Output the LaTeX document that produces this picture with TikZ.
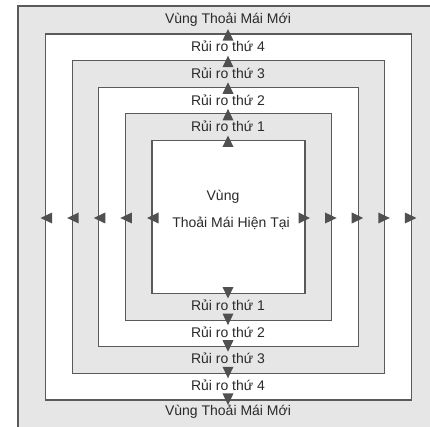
\documentclass[tikz,border=0pt]{standalone}
\usepackage{fontspec}
\setmainfont{Liberation Sans}
\definecolor{zonegray}{HTML}{E6E6E6}
\definecolor{edgegray}{HTML}{5A5A5A}
\definecolor{tricol}{HTML}{505050}
\definecolor{txtcol}{HTML}{2A2A2A}
\tikzset{
  zoneline/.style={draw=edgegray, line width=1.2pt},
  tri/.style={fill=tricol},
  lbl/.style={inner sep=0pt, text=txtcol, font=\fontsize{14}{16}\selectfont}
}
\begin{document}
\begin{tikzpicture}[x=1pt,y=-1pt]
\useasboundingbox (0,0) rectangle (430,427);
\clip (0,0) rectangle (430,427);
% outer frame
\fill[zonegray] (18,6) rectangle (445,445);
\draw[zoneline] (445,6) -- (18,6) -- (18,445);
% nested squares
\foreach \k/\f in {4/white,3/zonegray,2/white,1/zonegray,0/white}{
  \pgfmathsetmacro{\h}{76.5+26.6*\k}
  \draw[zoneline, fill=\f] (228.5-\h,217-\h) rectangle (228.5+\h,217+\h);
}
% triangles
\foreach \k in {0,...,4}{
  \pgfmathsetmacro{\h}{76.5+26.6*\k}
  \pgfmathsetmacro{\T}{217-\h}
  \pgfmathsetmacro{\B}{217+\h}
  \pgfmathsetmacro{\L}{228.5-\h}
  \pgfmathsetmacro{\R}{228.5+\h}
  \fill[tri] (228,\T-5) -- (222.5,\T+6.5) -- (233.5,\T+6.5) -- cycle;
  \fill[tri] (228,\B+5) -- (222.5,\B-6.5) -- (233.5,\B-6.5) -- cycle;
  \fill[tri] (\L-5,218) -- (\L+6.5,212.5) -- (\L+6.5,223.5) -- cycle;
  \fill[tri] (\R+5,218) -- (\R-6.5,212.5) -- (\R-6.5,223.5) -- cycle;
}
% labels
\node[lbl] (top5) at (228,19.5) {Vùng Thoải Mái Mới};
\node[lbl] (top4) at (228,46.5) {Rủi ro thứ 4};
\node[lbl] (top3) at (228,73) {Rủi ro thứ 3};
\node[lbl] (top2) at (228,100) {Rủi ro thứ 2};
\node[lbl] (top1) at (228,126.5) {Rủi ro thứ 1};
\node[lbl] (bot1) at (228,305.5) {Rủi ro thứ 1};
\node[lbl] (bot2) at (228,332) {Rủi ro thứ 2};
\node[lbl] (bot3) at (228,358.5) {Rủi ro thứ 3};
\node[lbl] (bot4) at (228,385) {Rủi ro thứ 4};
\node[lbl] (bot5) at (228,412) {Vùng Thoải Mái Mới};
\node[lbl] (cur1) at (223,197) {Vùng};
\node[lbl] (cur2) at (231,223) {Thoải Mái Hiện Tại};
\end{tikzpicture}
\end{document}
